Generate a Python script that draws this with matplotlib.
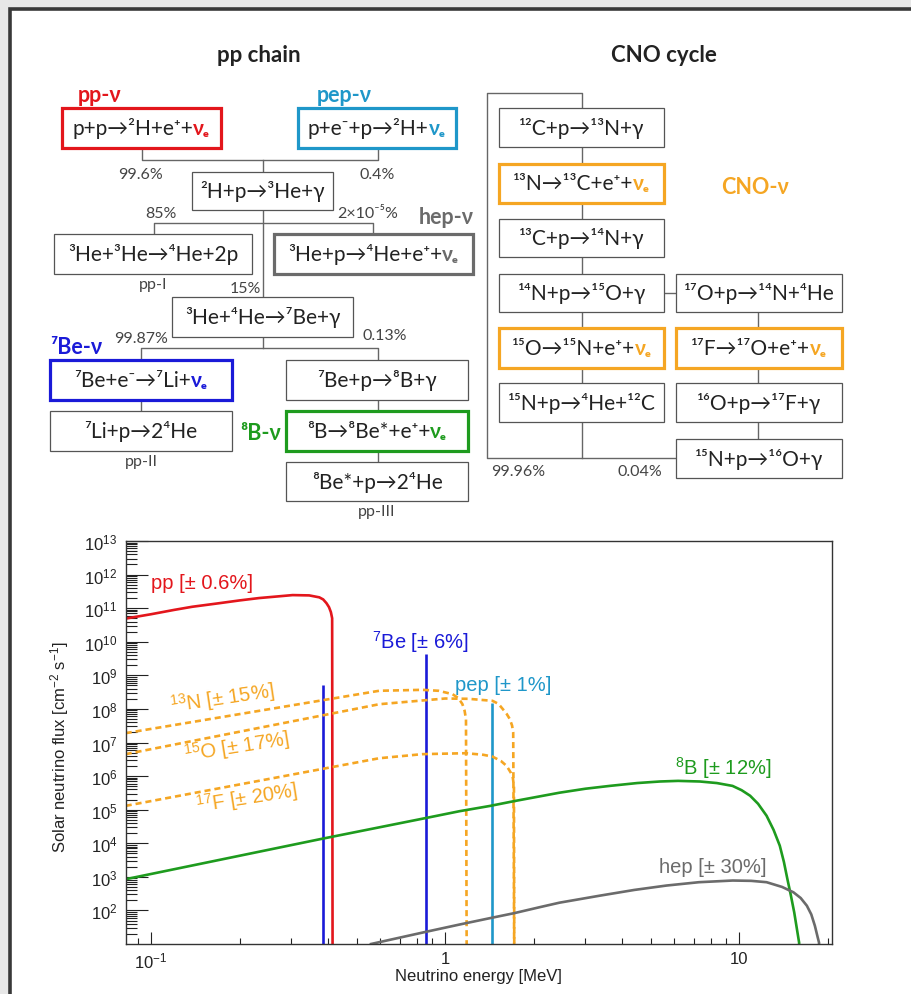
import numpy as np
import matplotlib
matplotlib.use("Agg")
import matplotlib.pyplot as plt
from matplotlib.patches import Rectangle
from matplotlib.ticker import LogLocator, NullFormatter

# ---- solar neutrino spectra (E in MeV, flux in cm^-2 s^-1) ----
pp_E = [0.082, 0.10, 0.12, 0.138, 0.17, 0.20, 0.233, 0.27, 0.303, 0.345, 0.3735, 0.385,
        0.395, 0.403, 0.409, 0.413, 0.4145]
pp_flux = [4.9e10, 6.6e10, 8.9e10, 1.1e11, 1.4e11, 1.7e11, 2.0e11, 2.24e11, 2.45e11, 2.4e11,
           2.1e11, 1.82e11, 1.41e11, 1.07e11, 7.6e10, 5.0e10, 1.0]

be7_E = [0.384, 0.862]
be7_flux = [5.3e8, 4.3e9]

pep_E = [1.44]
pep_flux = [1.5e8]

n13_E = [0.082, 0.597, 0.837, 0.95, 1.06, 1.11, 1.145, 1.165, 1.178, 1.185]
n13_flux = [1.9e7, 3.47e8, 3.7e8, 3.47e8, 2.75e8, 2.1e8, 1.4e8, 8.9e7, 5.0e7, 1.0]

o15_E = [0.082, 0.597, 1.0, 1.2, 1.45, 1.52, 1.57, 1.62, 1.66, 1.69, 1.705, 1.72]
o15_flux = [4.5e6, 1.38e8, 2.04e8, 2.0e8, 1.74e8, 1.41e8, 1.0e8, 7.1e7, 5.0e7, 3.2e7, 2.0e7, 1.0]

f17_E = [0.082, 0.597, 0.837, 1.18, 1.35, 1.45, 1.55, 1.62, 1.67, 1.70, 1.715, 1.72]
f17_flux = [1.3e5, 3.4e6, 4.5e6, 4.8e6, 4.3e6, 3.8e6, 2.8e6, 2.0e6, 1.3e6, 8.9e5, 5.0e5, 1.0]

b8_E = [0.082, 0.38, 0.857, 1.12, 1.42, 1.72, 2.45, 3.0, 3.63, 4.5, 5.38, 6.2, 7.35, 8.4,
        9.5, 10.2, 10.9, 11.6, 12.4, 13.1, 13.75, 14.2, 14.6, 15.0, 15.4, 16.0, 16.1]
b8_flux = [850, 1.35e4, 5.6e4, 9.0e4, 1.29e5, 1.8e5, 3.2e5, 4.2e5, 5.1e5, 6.2e5, 6.9e5, 7.2e5,
           6.9e5, 6.2e5, 5.1e5, 3.8e5, 2.6e5, 1.5e5, 6.6e4, 2.5e4, 8.5e3, 2.8e3, 850, 280, 87,
           11, 1.0]

hep_E = [0.56, 0.86, 1.12, 1.41, 1.72, 2.1, 2.45, 3.36, 4.4, 5.66, 7.3, 9.51, 11.0, 12.4,
         14.0, 15.3, 16.2, 17.0, 17.6, 18.1, 18.5, 18.7, 18.8]
hep_flux = [10, 23, 38, 58, 83, 125, 170, 275, 407, 550, 692, 776, 759, 692, 500, 347, 234,
            138, 76, 35, 16, 11, 1.0]

# ---- colours ----
RED = '#e3161c'
BLUE = '#1a1ad8'
CYAN = '#1f97c9'
ORANGE = '#f5a623'
GREEN = '#1e9b1e'
GREY = '#6b6b6b'
INK = '#222222'
LINE = '#666666'

DIAG = ['Lato', 'DejaVu Sans']
plt.rcParams['font.family'] = ['Liberation Sans', 'DejaVu Sans']
plt.rcParams['mathtext.fontset'] = 'custom'
plt.rcParams['mathtext.rm'] = 'Liberation Sans'
plt.rcParams['mathtext.it'] = 'Liberation Sans:italic'
plt.rcParams['mathtext.bf'] = 'Liberation Sans:bold'

fig = plt.figure(figsize=(9.11, 9.95), dpi=100)
fig.patch.set_facecolor('#e7e7e7')

# full-figure canvas in pixel units for the reaction diagram
bg = fig.add_axes([0, 0, 1, 1])
bg.set_xlim(0, 911)
bg.set_ylim(995, 0)
bg.axis('off')
bg.add_patch(Rectangle((9.8, 9.8), 1000, 1100, facecolor='white', edgecolor='#383838',
                       lw=2.6, zorder=0))

renderer = fig.canvas.get_renderer()


def rich_text(x, y, parts, size=15):
    # draws coloured pieces side by side, centred on x (baseline at y)
    texts = []
    for s, c, w in parts:
        t = bg.text(0, y, s, color=c, fontweight=w, fontsize=size, family=DIAG,
                    ha='left', va='baseline')
        texts.append(t)
    widths = [t.get_window_extent(renderer).width for t in texts]
    x0 = x - sum(widths) / 2
    for t, w in zip(texts, widths):
        t.set_x(x0)
        x0 += w


def box(x0, y0, x1, y1, parts, edge='#555555', lw=0.9):
    bg.add_patch(Rectangle((x0, y0), x1 - x0, y1 - y0, facecolor='white',
                           edgecolor=edge, lw=lw, zorder=2))
    rich_text((x0 + x1) / 2, (y0 + y1) / 2 + 6, parts)


def nu(color):
    return ('νₑ', color, 'bold')


def plain(s):
    return [(s, INK, 'normal')]


def wire(pts):
    xs, ys = zip(*pts)
    bg.plot(xs, ys, color=LINE, lw=1.0, zorder=1)


def note(x, y, s, color='#444444', size=11.5, weight='normal'):
    bg.text(x, y, s, color=color, fontsize=size, fontweight=weight, family=DIAG,
            ha='center', va='center')


THICK = 2.3
TAG = 15.5

# ---- pp chain ----
note(259, 55, 'pp chain', INK, 16, 'bold')
note(100, 95, 'pp-ν', RED, TAG, 'bold')
note(344, 95, 'pep-ν', CYAN, TAG, 'bold')
note(446, 218, 'hep-ν', GREY, TAG, 'bold')
note(76, 347, '⁷Be-ν', BLUE, TAG, 'bold')
note(261, 433, '⁸B-ν', GREEN, TAG, 'bold')

wire([(141.7, 149), (141.7, 160.7), (377.7, 160.7), (377.7, 149)])
wire([(263.3, 160.7), (263.3, 172.7)])
wire([(263.3, 210.7), (263.3, 298.3)])
wire([(154, 235), (154, 224), (372.7, 224), (372.7, 235)])
wire([(263.3, 337.7), (263.3, 349)])
wire([(141, 361), (141, 349), (377.7, 349), (377.7, 361)])
wire([(141, 401), (141, 412.3)])
wire([(377.7, 401), (377.7, 412.3)])
wire([(377.7, 451.7), (377.7, 463.3)])

box(61.7, 109, 220.7, 149, [('p+p→²H+e⁺+', INK, 'normal'), nu(RED)], RED, THICK)
box(297.7, 109, 456, 149, [('p+e⁻+p→²H+', INK, 'normal'), nu(CYAN)], CYAN, THICK)
box(192.3, 172.7, 333.3, 210.7, plain('²H+p→³He+γ'))
box(54.3, 235, 251.7, 275, plain('³He+³He→⁴He+2p'))
box(274, 235, 472.7, 275, [('³He+p→⁴He+e⁺+', INK, 'normal'), nu(GREY)], GREY, THICK)
box(172.3, 298.3, 353.3, 337.7, plain('³He+⁴He→⁷Be+γ'))
box(50, 361, 232.3, 401, [('⁷Be+e⁻→⁷Li+', INK, 'normal'), nu(BLUE)], BLUE, THICK)
box(286, 361, 467.7, 401, plain('⁷Be+p→⁸B+γ'))
box(50, 412.3, 232.3, 451.7, plain('⁷Li+p→2⁴He'))
box(286, 412.3, 468.3, 451.7, [('⁸B→⁸Be*+e⁺+', INK, 'normal'), nu(GREEN)], GREEN, THICK)
box(286, 463.3, 468.3, 502.3, plain('⁸Be*+p→2⁴He'))

note(140.7, 175, '99.6%')
note(376.7, 175, '0.4%')
note(161, 214, '85%')
note(368, 214, '2×10⁻⁵%')
note(153, 285, 'pp-I')
note(245, 289, '15%')
note(141, 339, '99.87%')
note(385, 336, '0.13%')
note(141, 462, 'pp-II')
note(377, 512, 'pp-III')

# ---- CNO cycle ----
note(664, 55, 'CNO cycle', INK, 16, 'bold')
note(755, 188, 'CNO-ν', ORANGE, TAG, 'bold')

wire([(581.7, 109.3), (581.7, 94), (487.3, 94), (487.3, 459), (676, 459)])
for a, b in [(148.3, 165), (204, 220), (258.3, 275), (313.3, 329.3), (369, 384.3), (423.3, 459)]:
    wire([(581.7, a), (581.7, b)])
wire([(664.3, 294), (676, 294)])
for a, b in [(313.3, 329.3), (369, 384.3), (423.3, 440)]:
    wire([(758.3, a), (758.3, b)])

L0, L1 = 499, 664.3
R0, R1 = 676, 841.7
box(L0, 109.3, L1, 148.3, plain('¹²C+p→¹³N+γ'))
box(L0, 165, L1, 204, [('¹³N→¹³C+e⁺+', INK, 'normal'), nu(ORANGE)], ORANGE, THICK)
box(L0, 220, L1, 258.3, plain('¹³C+p→¹⁴N+γ'))
box(L0, 275, L1, 313.3, plain('¹⁴N+p→¹⁵O+γ'))
box(L0, 329.3, L1, 369, [('¹⁵O→¹⁵N+e⁺+', INK, 'normal'), nu(ORANGE)], ORANGE, THICK)
box(L0, 384.3, L1, 423.3, plain('¹⁵N+p→⁴He+¹²C'))
box(R0, 275, R1, 313.3, plain('¹⁷O+p→¹⁴N+⁴He'))
box(R0, 329.3, R1, 369, [('¹⁷F→¹⁷O+e⁺+', INK, 'normal'), nu(ORANGE)], ORANGE, THICK)
box(R0, 384.3, R1, 423.3, plain('¹⁶O+p→¹⁷F+γ'))
box(R0, 440, R1, 479, plain('¹⁵N+p→¹⁶O+γ'))

note(518, 472, '99.96%')
note(640, 472, '0.04%')

# ---- spectrum plot ----
ax = fig.add_axes([125.7 / 911, 1 - 945 / 995, (832 - 125.7) / 911, (945 - 542) / 995])
ax.set_xscale('log')
ax.set_yscale('log')

lw = 1.9
dash = (0, (2.3, 1.5))
ax.plot(pp_E, pp_flux, color=RED, lw=lw)
ax.vlines(be7_E, 1, be7_flux, color=BLUE, lw=lw)
ax.vlines(pep_E, 1, pep_flux, color=CYAN, lw=lw)
ax.plot(n13_E, n13_flux, color=ORANGE, lw=lw, ls=dash)
ax.plot(o15_E, o15_flux, color=ORANGE, lw=lw, ls=dash)
ax.plot(f17_E, f17_flux, color=ORANGE, lw=lw, ls=dash)
ax.plot(b8_E, b8_flux, color=GREEN, lw=lw)
ax.plot(hep_E, hep_flux, color=GREY, lw=lw)

ax.set_xlim(0.082, 20.7)
ax.set_ylim(10, 1e13)

fs = 14.5
ax.text(0.1, 5.9e11, 'pp [± 0.6%]', color=RED, fontsize=fs, va='center')
ax.text(0.566, 1.07e10, '$^{7}$Be [± 6%]', color=BLUE, fontsize=fs, va='center')
ax.text(1.08, 5.5e8, 'pep [± 1%]', color=CYAN, fontsize=fs, va='center')
ax.text(0.175, 2.2e8, '$^{13}$N [± 15%]', color=ORANGE, fontsize=fs, ha='center', va='center',
        rotation=8.5, rotation_mode='anchor')
ax.text(0.196, 7.8e6, '$^{15}$O [± 17%]', color=ORANGE, fontsize=fs, ha='center', va='center',
        rotation=9, rotation_mode='anchor')
ax.text(0.212, 2.4e5, '$^{17}$F [± 20%]', color=ORANGE, fontsize=fs, ha='center', va='center',
        rotation=9, rotation_mode='anchor')
ax.text(6.04, 1.9e6, '$^{8}$B [± 12%]', color=GREEN, fontsize=fs, va='center')
ax.text(5.33, 2.1e3, 'hep [± 30%]', color=GREY, fontsize=fs, va='center')

ax.set_yticks([10.0 ** k for k in range(2, 14)],
              labels=['10$^{%d}$' % k for k in range(2, 14)])
ax.yaxis.set_minor_locator(LogLocator(base=10, subs=np.arange(2, 10), numticks=40))
ax.yaxis.set_minor_formatter(NullFormatter())
ax.set_xticks([0.1, 1, 10], labels=['10$^{-1}$', '1', '10'])
ax.xaxis.set_minor_locator(LogLocator(base=10, subs=np.arange(2, 10), numticks=40))
ax.xaxis.set_minor_formatter(NullFormatter())

ax.tick_params(which='both', direction='in', top=False, right=False, colors='#222222',
               labelsize=12, width=0.8)
ax.tick_params(axis='y', which='major', length=16, pad=6)
ax.tick_params(axis='y', which='minor', length=8)
ax.tick_params(axis='x', which='major', length=8.5, pad=5)
ax.tick_params(axis='x', which='minor', length=4.5)
for s in ax.spines.values():
    s.set_color('#333333')
    s.set_linewidth(1.0)

ax.set_ylabel('Solar neutrino flux [cm$^{-2}$ s$^{-1}$]', fontsize=12, color='#222222')
ax.yaxis.set_label_coords(-0.078, 0.49)
ax.set_xlabel('Neutrino energy [MeV]', fontsize=12, color='#222222')
ax.xaxis.set_label_coords(0.5, -0.06)

fig.savefig('out.png', dpi=100, facecolor=fig.get_facecolor())
